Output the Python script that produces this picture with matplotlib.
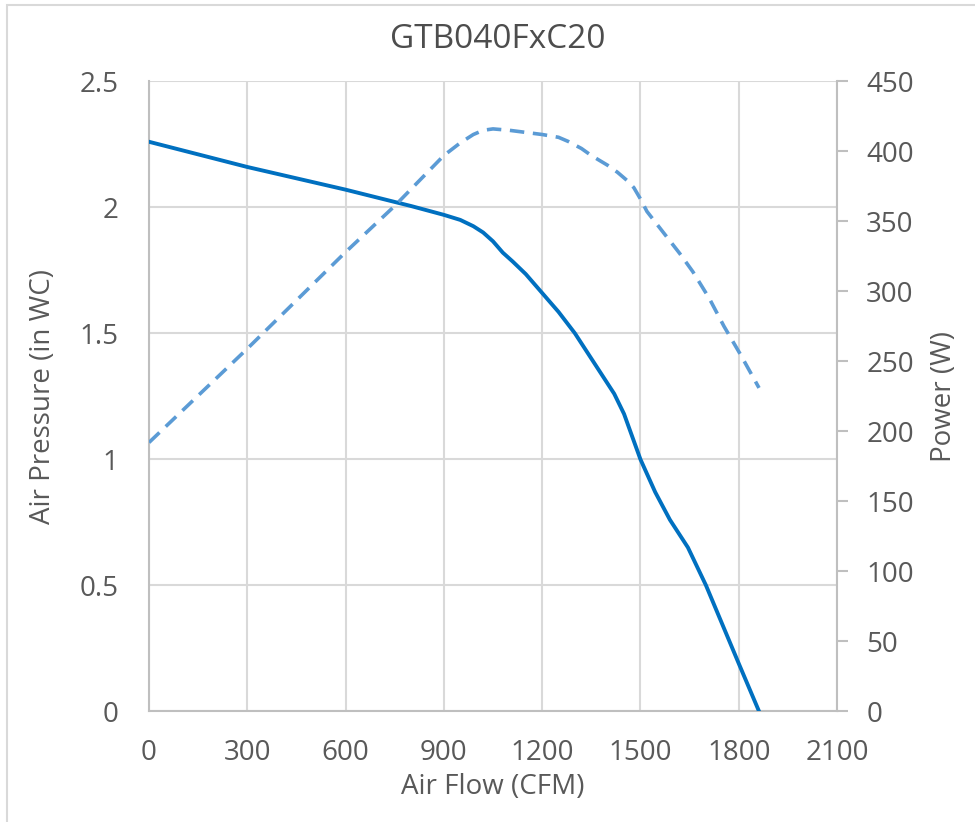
import matplotlib.pyplot as plt
from matplotlib.patches import Rectangle

plt.rcParams['font.family'] = ['Open Sans', 'DejaVu Sans']

# Pressure curve (CFM, in WC)
flow_p = [0, 300, 600, 800, 900, 950, 990, 1020, 1050, 1080, 1110, 1150, 1200, 1250, 1300,
          1340, 1380, 1420, 1450, 1475, 1500, 1545, 1590, 1645, 1700, 1750, 1800, 1862]
pressure = [2.26, 2.16, 2.07, 2.005, 1.97, 1.95, 1.925, 1.90, 1.865, 1.82, 1.785, 1.735, 1.66, 1.585, 1.50,
            1.42, 1.34, 1.26, 1.18, 1.09, 1.00, 0.87, 0.76, 0.65, 0.50, 0.345, 0.19, 0.0]

# Power curve (CFM, W)
flow_w = [0, 300, 600, 750, 900, 950, 990, 1020, 1050, 1100, 1200, 1250, 1280, 1320, 1350, 1400,
          1430, 1460, 1480, 1500, 1520, 1570, 1620, 1660, 1710, 1755, 1805, 1862]
power = [192, 259, 328, 361, 397, 406, 412, 415, 416, 415, 412, 410, 407, 402, 397, 390,
         385, 379, 374, 366, 357, 342, 327, 314, 295, 275, 255, 231]

x_ticks = [0, 300, 600, 900, 1200, 1500, 1800, 2100]
p_ticks = [0, 0.5, 1, 1.5, 2, 2.5]
w_ticks = [0, 50, 100, 150, 200, 250, 300, 350, 400, 450]

txt = '#595959'
grid = '#D9D9D9'
axis_col = '#BFBFBF'

fig = plt.figure(figsize=(9.75, 8.22), dpi=100)
ax = fig.add_axes([149 / 975, 1 - 711.3 / 822, (837 - 149) / 975, (711.3 - 81.3) / 822])
ax2 = ax.twinx()

ax.plot(flow_p, pressure, color='#0070C0', lw=2.8, solid_joinstyle='round', zorder=3)
ax2.plot(flow_w, power, color='#5B9BD5', lw=2.6, dashes=(4, 2.4), zorder=3)

ax.set_xlim(0, 2100)
ax.set_ylim(0, 2.5)
ax2.set_ylim(0, 450)
ax.set_xticks(x_ticks)
ax.set_yticks(p_ticks)
ax.set_yticklabels(['0', '0.5', '1', '1.5', '2', '2.5'])
ax2.set_yticks(w_ticks)

ax.grid(True, color=grid, lw=1.5)
ax.set_axisbelow(True)

for a in (ax, ax2):
    for s in a.spines.values():
        s.set_visible(False)
ax.spines['left'].set_visible(True)
ax.spines['left'].set_color(axis_col)
ax.spines['left'].set_linewidth(1.5)
ax.spines['bottom'].set_visible(True)
ax.spines['bottom'].set_color(axis_col)
ax.spines['bottom'].set_linewidth(1.5)
ax2.spines['right'].set_visible(True)
ax2.spines['right'].set_color(axis_col)
ax2.spines['right'].set_linewidth(1.5)

ax.tick_params(axis='x', length=0, pad=20, labelsize=20, labelcolor=txt)
ax.tick_params(axis='y', length=0, pad=22, labelsize=20, labelcolor=txt)
ax2.tick_params(axis='y', length=8, width=1.5, color=axis_col, pad=13, labelsize=20, labelcolor=txt)

ax.set_xlabel('Air Flow (CFM)', fontsize=20, color=txt, labelpad=4)
ax.set_ylabel('Air Pressure (in WC)', fontsize=20, color=txt, labelpad=16)
ax2.set_ylabel('Power (W)', fontsize=20, color=txt, labelpad=12)
fig.text(498 / 975, 1 - 40 / 822, 'GTB040FxC20', fontsize=24, color='#4D4D4D',
         ha='center', va='center', fontweight='medium')

fig.patches.append(Rectangle((7 / 975, -0.1), 1.2, 1.1 - 5 / 822, transform=fig.transFigure,
                             fill=False, edgecolor='#D9D9D9', lw=1.5))

fig.savefig('out.png', dpi=100)
